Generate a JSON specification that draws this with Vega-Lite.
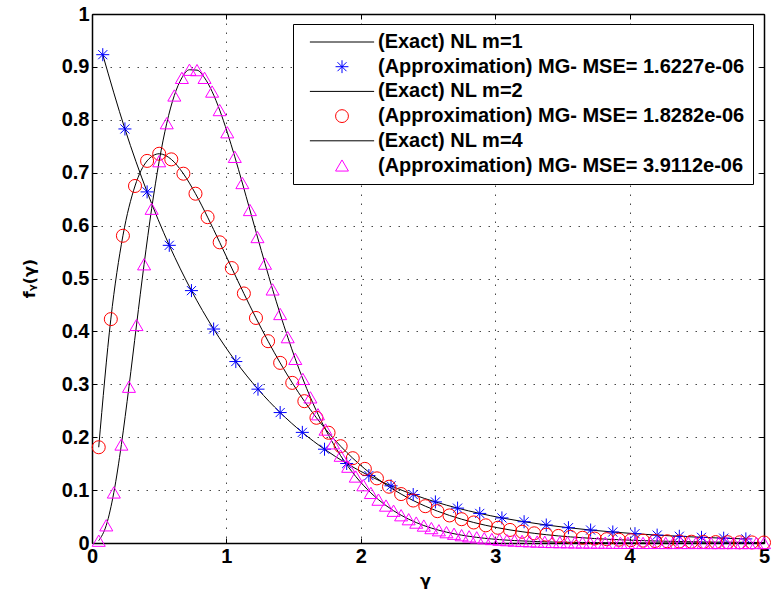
{
  "$schema": "https://vega.github.io/schema/vega-lite/v6.json",
  "width": 672,
  "height": 529,
  "autosize": {"type": "none"},
  "padding": {"left": 92, "top": 14, "right": 12, "bottom": 53},
  "background": "white",
  "data": {"values": [
    {"x":0.08,"y":0.9231,"s":"a1"},{"x":0.245,"y":0.7827,"s":"a1"},{"x":0.41,"y":0.6637,"s":"a1"},{"x":0.575,"y":0.5627,"s":"a1"},{"x":0.74,"y":0.4771,"s":"a1"},{"x":0.905,"y":0.4045,"s":"a1"},{"x":1.07,"y":0.3430,"s":"a1"},{"x":1.235,"y":0.2908,"s":"a1"},{"x":1.4,"y":0.2466,"s":"a1"},{"x":1.565,"y":0.2091,"s":"a1"},{"x":1.73,"y":0.1773,"s":"a1"},{"x":1.895,"y":0.1503,"s":"a1"},{"x":2.06,"y":0.1275,"s":"a1"},{"x":2.225,"y":0.1081,"s":"a1"},{"x":2.39,"y":0.0916,"s":"a1"},{"x":2.555,"y":0.0777,"s":"a1"},{"x":2.72,"y":0.0659,"s":"a1"},{"x":2.885,"y":0.0559,"s":"a1"},{"x":3.05,"y":0.0474,"s":"a1"},{"x":3.215,"y":0.0402,"s":"a1"},{"x":3.38,"y":0.0340,"s":"a1"},{"x":3.545,"y":0.0289,"s":"a1"},{"x":3.71,"y":0.0245,"s":"a1"},{"x":3.875,"y":0.0208,"s":"a1"},{"x":4.04,"y":0.0176,"s":"a1"},{"x":4.205,"y":0.0149,"s":"a1"},{"x":4.37,"y":0.0127,"s":"a1"},{"x":4.535,"y":0.0107,"s":"a1"},{"x":4.7,"y":0.0091,"s":"a1"},{"x":4.865,"y":0.0077,"s":"a1"},
    {"x":0.05,"y":0.1810,"s":"a2"},{"x":0.14,"y":0.4232,"s":"a2"},{"x":0.23,"y":0.5808,"s":"a2"},{"x":0.32,"y":0.6749,"s":"a2"},{"x":0.41,"y":0.7223,"s":"a2"},{"x":0.5,"y":0.7358,"s":"a2"},{"x":0.59,"y":0.7252,"s":"a2"},{"x":0.68,"y":0.6981,"s":"a2"},{"x":0.77,"y":0.6603,"s":"a2"},{"x":0.86,"y":0.6160,"s":"a2"},{"x":0.95,"y":0.5684,"s":"a2"},{"x":1.04,"y":0.5197,"s":"a2"},{"x":1.13,"y":0.4717,"s":"a2"},{"x":1.22,"y":0.4254,"s":"a2"},{"x":1.31,"y":0.3815,"s":"a2"},{"x":1.4,"y":0.3405,"s":"a2"},{"x":1.49,"y":0.3027,"s":"a2"},{"x":1.58,"y":0.2681,"s":"a2"},{"x":1.67,"y":0.2367,"s":"a2"},{"x":1.76,"y":0.2084,"s":"a2"},{"x":1.85,"y":0.1830,"s":"a2"},{"x":1.94,"y":0.1603,"s":"a2"},{"x":2.03,"y":0.1401,"s":"a2"},{"x":2.12,"y":0.1222,"s":"a2"},{"x":2.21,"y":0.1064,"s":"a2"},{"x":2.3,"y":0.0925,"s":"a2"},{"x":2.39,"y":0.0803,"s":"a2"},{"x":2.48,"y":0.0696,"s":"a2"},{"x":2.57,"y":0.0602,"s":"a2"},{"x":2.66,"y":0.0521,"s":"a2"},{"x":2.75,"y":0.0450,"s":"a2"},{"x":2.84,"y":0.0388,"s":"a2"},{"x":2.93,"y":0.0334,"s":"a2"},{"x":3.02,"y":0.0288,"s":"a2"},{"x":3.11,"y":0.0247,"s":"a2"},{"x":3.2,"y":0.0213,"s":"a2"},{"x":3.29,"y":0.0183,"s":"a2"},{"x":3.38,"y":0.0157,"s":"a2"},{"x":3.47,"y":0.0134,"s":"a2"},{"x":3.56,"y":0.0115,"s":"a2"},{"x":3.65,"y":0.0099,"s":"a2"},{"x":3.74,"y":0.0084,"s":"a2"},{"x":3.83,"y":0.0072,"s":"a2"},{"x":3.92,"y":0.0062,"s":"a2"},{"x":4.01,"y":0.0053,"s":"a2"},{"x":4.1,"y":0.0045,"s":"a2"},{"x":4.19,"y":0.0038,"s":"a2"},{"x":4.28,"y":0.0033,"s":"a2"},{"x":4.37,"y":0.0028,"s":"a2"},{"x":4.46,"y":0.0024,"s":"a2"},{"x":4.55,"y":0.0020,"s":"a2"},{"x":4.64,"y":0.0017,"s":"a2"},{"x":4.73,"y":0.0015,"s":"a2"},{"x":4.82,"y":0.0013,"s":"a2"},{"x":4.91,"y":0.0011,"s":"a2"},{"x":5.0,"y":0.0009,"s":"a2"},
    {"x":0.05,"y":0.0044,"s":"a4"},{"x":0.10625,"y":0.0335,"s":"a4"},{"x":0.1625,"y":0.0956,"s":"a4"},{"x":0.21875,"y":0.1862,"s":"a4"},{"x":0.275,"y":0.2954,"s":"a4"},{"x":0.33125,"y":0.4122,"s":"a4"},{"x":0.3875,"y":0.5269,"s":"a4"},{"x":0.44375,"y":0.6319,"s":"a4"},{"x":0.5,"y":0.7218,"s":"a4"},{"x":0.55625,"y":0.7936,"s":"a4"},{"x":0.6125,"y":0.8460,"s":"a4"},{"x":0.66875,"y":0.8793,"s":"a4"},{"x":0.725,"y":0.8946,"s":"a4"},{"x":0.78125,"y":0.8939,"s":"a4"},{"x":0.8375,"y":0.8793,"s":"a4"},{"x":0.89375,"y":0.8534,"s":"a4"},{"x":0.95,"y":0.8184,"s":"a4"},{"x":1.00625,"y":0.7765,"s":"a4"},{"x":1.0625,"y":0.7300,"s":"a4"},{"x":1.11875,"y":0.6805,"s":"a4"},{"x":1.175,"y":0.6295,"s":"a4"},{"x":1.23125,"y":0.5784,"s":"a4"},{"x":1.2875,"y":0.5281,"s":"a4"},{"x":1.34375,"y":0.4794,"s":"a4"},{"x":1.4,"y":0.4329,"s":"a4"},{"x":1.45625,"y":0.3891,"s":"a4"},{"x":1.5125,"y":0.3481,"s":"a4"},{"x":1.56875,"y":0.3102,"s":"a4"},{"x":1.625,"y":0.2753,"s":"a4"},{"x":1.68125,"y":0.2434,"s":"a4"},{"x":1.7375,"y":0.2145,"s":"a4"},{"x":1.79375,"y":0.1885,"s":"a4"},{"x":1.85,"y":0.1651,"s":"a4"},{"x":1.90625,"y":0.1443,"s":"a4"},{"x":1.9625,"y":0.1257,"s":"a4"},{"x":2.01875,"y":0.1093,"s":"a4"},{"x":2.075,"y":0.0947,"s":"a4"},{"x":2.13125,"y":0.0820,"s":"a4"},{"x":2.1875,"y":0.0708,"s":"a4"},{"x":2.24375,"y":0.0610,"s":"a4"},{"x":2.3,"y":0.0525,"s":"a4"},{"x":2.35625,"y":0.0450,"s":"a4"},{"x":2.4125,"y":0.0386,"s":"a4"},{"x":2.46875,"y":0.0330,"s":"a4"},{"x":2.525,"y":0.0282,"s":"a4"},{"x":2.58125,"y":0.0241,"s":"a4"},{"x":2.6375,"y":0.0205,"s":"a4"},{"x":2.69375,"y":0.0175,"s":"a4"},{"x":2.75,"y":0.0148,"s":"a4"},{"x":2.80625,"y":0.0126,"s":"a4"},{"x":2.8625,"y":0.0107,"s":"a4"},{"x":2.91875,"y":0.0090,"s":"a4"},{"x":2.975,"y":0.0076,"s":"a4"},{"x":3.03125,"y":0.0064,"s":"a4"},{"x":3.0875,"y":0.0054,"s":"a4"},{"x":3.14375,"y":0.0046,"s":"a4"},{"x":3.2,"y":0.0039,"s":"a4"},{"x":3.25625,"y":0.0033,"s":"a4"},{"x":3.3125,"y":0.0027,"s":"a4"},{"x":3.36875,"y":0.0023,"s":"a4"},{"x":3.425,"y":0.0019,"s":"a4"},{"x":3.48125,"y":0.0016,"s":"a4"},{"x":3.5375,"y":0.0014,"s":"a4"},{"x":3.59375,"y":0.0011,"s":"a4"},{"x":3.65,"y":0.0010,"s":"a4"},{"x":3.70625,"y":0.0008,"s":"a4"},{"x":3.7625,"y":0.0007,"s":"a4"},{"x":3.81875,"y":0.0006,"s":"a4"},{"x":3.875,"y":0.0005,"s":"a4"},{"x":3.93125,"y":0.0004,"s":"a4"},{"x":3.9875,"y":0.0003,"s":"a4"},{"x":4.04375,"y":0.0003,"s":"a4"},{"x":4.1,"y":0.0002,"s":"a4"},{"x":4.15625,"y":0.0002,"s":"a4"},{"x":4.2125,"y":0.0002,"s":"a4"},{"x":4.26875,"y":0.0001,"s":"a4"},{"x":4.325,"y":0.0001,"s":"a4"},{"x":4.38125,"y":0.0001,"s":"a4"},{"x":4.4375,"y":0.0001,"s":"a4"},{"x":4.49375,"y":0.0001,"s":"a4"},{"x":4.55,"y":0.0001,"s":"a4"},{"x":4.60625,"y":0.0,"s":"a4"},{"x":4.6625,"y":0.0,"s":"a4"},{"x":4.71875,"y":0.0,"s":"a4"},{"x":4.775,"y":0.0,"s":"a4"},{"x":4.83125,"y":0.0,"s":"a4"},{"x":4.8875,"y":0.0,"s":"a4"},{"x":4.94375,"y":0.0,"s":"a4"},{"x":5.0,"y":0.0,"s":"a4"}
  ]},
  "layer": [
    {
      "mark": {"type": "line", "color": "black", "strokeWidth": 1, "interpolate": "monotone", "clip": false},
      "encoding": {
        "x": {"field": "x", "type": "quantitative",
              "scale": {"domain": [0, 5], "nice": false, "zero": false},
              "axis": {"orient": "bottom", "values": [0,1,2,3,4,5], "format": "~g", "grid": true,
                       "title": "γ", "titleX": 333, "titleY": 42, "titleAlign": "center", "titleBaseline": "alphabetic",
                       "titleFontSize": 16, "titleFontWeight": "bold", "titleFont": "DejaVu Sans", "titleColor": "black"}},
        "y": {"field": "y", "type": "quantitative",
              "scale": {"domain": [0, 1], "nice": false, "zero": false},
              "axis": {"orient": "left", "values": [0,0.1,0.2,0.3,0.4,0.5,0.6,0.7,0.8,0.9,1], "format": "~g", "grid": true,
                       "title": "fᵧ(γ)", "titleAngle": 270, "titleX": -58, "titleY": 264, "titleAlign": "center", "titleBaseline": "alphabetic",
                       "titleFontSize": 16, "titleFontWeight": "bold", "titleFont": "DejaVu Sans", "titleColor": "black"}},
        "detail": {"field": "s", "type": "nominal"}
      }
    },
    {
      "mark": {"type": "point", "filled": false, "strokeWidth": 1, "size": 170, "opacity": 1, "clip": false},
      "encoding": {
        "x": {"field": "x", "type": "quantitative",
              "axis": {"orient": "top", "values": [0,1,2,3,4,5], "labels": false, "grid": false, "title": null}},
        "y": {"field": "y", "type": "quantitative",
              "axis": {"orient": "right", "values": [0,0.1,0.2,0.3,0.4,0.5,0.6,0.7,0.8,0.9,1], "labels": false, "grid": false, "title": null}},
        "color": {"field": "s", "type": "nominal",
                  "scale": {"domain": ["e1","a1","e2","a2","e4","a4"], "range": ["black","#0000ff","black","#ff0000","black","#ff00ff"]},
                  "legend": {"labelExpr": "{'e1':'(Exact) NL m=1','a1':'(Approximation) MG- MSE= 1.6227e-06','e2':'(Exact) NL m=2','a2':'(Approximation) MG- MSE= 1.8282e-06','e4':'(Exact) NL m=4','a4':'(Approximation) MG- MSE= 3.9112e-06'}[datum.value]"}},
        "shape": {"field": "s", "type": "nominal",
                  "scale": {"domain": ["e1","a1","e2","a2","e4","a4"],
                            "range": ["M-5,0H5","M0,-1V1M-1,0H1M-0.7,-0.7L0.7,0.7M-0.7,0.7L0.7,-0.7","M-5,0H5","circle","M-5,0H5","triangle-up"]},
                  "legend": {"labelExpr": "{'e1':'(Exact) NL m=1','a1':'(Approximation) MG- MSE= 1.6227e-06','e2':'(Exact) NL m=2','a2':'(Approximation) MG- MSE= 1.8282e-06','e4':'(Exact) NL m=4','a4':'(Approximation) MG- MSE= 3.9112e-06'}[datum.value]"}}
      }
    }
  ],
  "resolve": {"axis": {"x": "independent", "y": "independent"}},
  "config": {
    "view": {"stroke": null},
    "axis": {
      "domainColor": "black", "domainWidth": 1.5,
      "tickColor": "black", "tickSize": -5, "tickWidth": 1,
      "gridColor": "#333333", "gridDash": [1.5, 7.5], "gridWidth": 1, "gridOpacity": 0.9,
      "labelFont": "Liberation Sans", "labelFontSize": 20, "labelFontWeight": "bold", "labelColor": "black",
      "labelPadding": 8, "labelFlush": false, "labelOverlap": false
    },
    "legend": {
      "orient": "none", "legendX": 201, "legendY": 10, "title": null,
      "padding": 8, "strokeColor": "black", "strokeWidth": 1, "fillColor": "white",
      "labelFont": "Liberation Sans", "labelFontSize": 20, "labelFontWeight": "bold", "labelColor": "black", "labelLimit": 600,
      "symbolSize": 165, "symbolStrokeWidth": 1, "symbolOffset": 31, "labelOffset": 26, "rowPadding": 4.7
    }
  }
}
